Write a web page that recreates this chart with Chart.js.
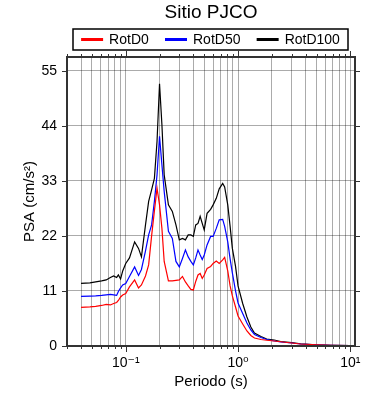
<!DOCTYPE html>
<html>
<head>
<meta charset="utf-8">
<script src="https://cdn.jsdelivr.net/npm/chart.js@4.4.1/dist/chart.umd.min.js"></script>
<style>
  html, body { margin: 0; padding: 0; background: #fff; }
  #wrap { width: 390px; height: 400px; }
</style>
</head>
<body>
<div id="wrap"><canvas id="chart" width="390" height="400"></canvas></div>
<script>
// spectral periods (s)
const periods = [0.04, 0.048, 0.054, 0.061, 0.067, 0.073, 0.078, 0.083, 0.086, 0.09,
  0.094, 0.1, 0.108, 0.12, 0.13, 0.138, 0.15, 0.16, 0.17, 0.18,
  0.19, 0.2, 0.21, 0.22, 0.24, 0.26, 0.28, 0.3, 0.32, 0.34,
  0.36, 0.38, 0.4, 0.42, 0.44, 0.46, 0.48, 0.5, 0.53, 0.57,
  0.6, 0.64, 0.68, 0.73, 0.76, 0.81, 0.85, 0.89, 0.95, 1.0,
  1.1, 1.2, 1.3, 1.4, 1.6, 1.8, 2.1, 2.4, 3.0, 3.6,
  5.0, 6.7, 10];

const rotD0 = [7.7, 7.8, 7.9, 8.1, 8.3, 8.2, 8.5, 8.7, 9.1, 9.8,
  10.2, 10.5, 11.8, 13.2, 11.6, 12.2, 14.0, 16.2, 22.0, 27.0,
  31.5, 28.2, 23.5, 16.9, 13.0, 13.0, 13.1, 13.2, 13.9, 12.8,
  12.0, 11.3, 11.2, 12.9, 14.2, 14.5, 13.5, 14.2, 15.5, 15.9,
  16.5, 17.0, 16.5, 17.2, 17.7, 15.0, 12.0, 10.0, 7.8, 6.0,
  4.4, 3.0, 2.1, 1.6, 1.3, 1.15, 1.0, 0.85, 0.6, 0.4,
  0.25, 0.15, 0.08];

const rotD50 = [9.9, 9.95, 10.0, 10.1, 10.2, 10.3, 10.2, 10.1, 10.9, 11.6,
  12.2, 12.5, 13.9, 15.8, 14.1, 15.3, 19.0, 22.2, 24.2, 28.9,
  34.2, 41.9, 36.2, 30.9, 22.9, 21.5, 16.9, 15.8, 17.5, 19.2,
  17.8, 16.9, 16.2, 17.6, 19.2, 18.2, 17.3, 18.2, 20.2, 21.9,
  21.9, 23.5, 25.2, 25.3, 23.9, 20.8, 17.4, 14.6, 11.0, 8.6,
  6.5, 4.6, 3.2, 2.3, 1.7, 1.3, 1.0, 0.8, 0.6, 0.4,
  0.25, 0.15, 0.08];

const rotD100 = [12.5, 12.6, 12.8, 13.0, 13.2, 13.7, 14.0, 13.7, 14.2, 13.4,
  15.0, 16.5, 17.6, 20.8, 19.5, 17.8, 24.2, 28.9, 31.2, 33.5,
  40.9, 52.4, 44.2, 34.2, 28.2, 26.9, 24.2, 21.2, 21.5, 21.2,
  22.2, 22.2, 21.9, 24.2, 24.5, 25.9, 24.5, 23.2, 26.5, 27.3,
  28.2, 29.5, 31.4, 32.5, 31.8, 28.2, 23.9, 19.5, 15.9, 12.0,
  8.5, 5.8, 3.8, 2.6, 1.9, 1.4, 1.2, 0.9, 0.7, 0.45,
  0.25, 0.15, 0.08];

const seriesNames = ['RotD0', 'RotD50', 'RotD100'];
const seriesColors = ['#ff0000', '#0000ff', '#000000'];
const yTicks = [0, 11, 22, 33, 44, 55];
const xMajor = [0.1, 1, 10];
const xMajorLabels = ['10\u207B\u00B9', '10\u2070', '10\u00B9'];
const xMin = 0.03, xMax = 11, yMax = 57.75;

// log grid: 2..9 times each decade
const xGrid = [];
for (const dec of [0.01, 0.1, 1, 10]) {
  for (let k = 1; k <= 9; k++) {
    const v = Number((k * dec).toPrecision(3));
    if (v >= xMin && v <= xMax) xGrid.push(v);
  }
}

const FONT = "'Liberation Sans', Arial, 'DejaVu Sans', sans-serif";
Chart.defaults.font.family = FONT;
Chart.defaults.color = '#000';

const series = [rotD0, rotD50, rotD100];
const datasets = series.map((vals, i) => ({
  label: seriesNames[i],
  data: periods.map((p, j) => ({ x: p, y: vals[j] })),
  borderColor: seriesColors[i],
  backgroundColor: seriesColors[i],
  borderWidth: 1.2,
  pointRadius: 0,
  tension: 0,
  fill: false
}));

const isMajor = v => xMajor.some(m => Math.abs(m - v) < 1e-9);

// title, boxed legend, frame and outside ticks
const decorations = {
  id: 'decorations',
  afterDraw(chart) {
    const ctx = chart.ctx;
    const a = chart.chartArea;
    const cx = (a.left + a.right) / 2;
    ctx.save();

    ctx.fillStyle = '#000';
    ctx.font = '19px ' + FONT;
    ctx.textAlign = 'center';
    ctx.textBaseline = 'middle';
    ctx.fillText('Sitio PJCO', cx, 13);

    // legend box
    const bx0 = a.left + 6, bx1 = a.right - 7, by0 = a.top - 28, by1 = a.top - 7;
    ctx.lineWidth = 1.5;
    ctx.strokeStyle = '#000';
    ctx.strokeRect(bx0, by0, bx1 - bx0, by1 - by0);
    ctx.font = '14px ' + FONT;
    const lineLen = 22, gap = 6;
    const widths = chart.data.datasets.map(d => lineLen + gap + ctx.measureText(d.label).width);
    const free = (bx1 - bx0) - widths.reduce((s, w) => s + w, 0);
    const outer = free / 6, inner = free / 3;
    let x = bx0 + outer;
    const ly = (by0 + by1) / 2;
    ctx.textAlign = 'left';
    chart.data.datasets.forEach((d, i) => {
      ctx.strokeStyle = d.borderColor;
      ctx.lineWidth = 3;
      ctx.beginPath();
      ctx.moveTo(x, ly);
      ctx.lineTo(x + lineLen, ly);
      ctx.stroke();
      ctx.fillStyle = '#000';
      ctx.fillText(d.label, x + lineLen + gap, ly + 0.5);
      x += widths[i] + inner;
    });

    // frame
    ctx.strokeStyle = '#333';
    ctx.lineWidth = 2;
    ctx.strokeRect(a.left, a.top, a.right - a.left, a.bottom - a.top);

    // ticks outside the frame
    ctx.lineWidth = 1;
    ctx.strokeStyle = '#333';
    const xs = chart.scales.x, ys = chart.scales.y;
    ctx.beginPath();
    xGrid.forEach(v => {
      const px = Math.round(xs.getPixelForValue(v)) + 0.5;
      const len = isMajor(v) ? 6 : 3;
      ctx.moveTo(px, a.bottom); ctx.lineTo(px, a.bottom + len);
      ctx.moveTo(px, a.top); ctx.lineTo(px, a.top - len);
    });
    yTicks.forEach(v => {
      const py = Math.round(ys.getPixelForValue(v)) + 0.5;
      ctx.moveTo(a.left - 5, py); ctx.lineTo(a.left, py);
      ctx.moveTo(a.right, py); ctx.lineTo(a.right + 5, py);
    });
    ctx.stroke();
    ctx.restore();
  }
};

new Chart(document.getElementById('chart'), {
  type: 'line',
  data: { datasets: datasets },
  plugins: [decorations],
  options: {
    responsive: false,
    animation: false,
    layout: { padding: { top: 57, right: 35, left: 0, bottom: 0 } },
    plugins: {
      legend: { display: false },
      title: { display: false },
      tooltip: { enabled: false }
    },
    scales: {
      x: {
        type: 'logarithmic',
        min: xMin,
        max: xMax,
        afterBuildTicks: s => { s.ticks = xGrid.map(v => ({ value: v, major: isMajor(v) })); },
        ticks: {
          autoSkip: false,
          maxRotation: 0,
          padding: 9,
          font: { size: 14 },
          color: '#000',
          callback: v => {
            const i = xMajor.findIndex(m => Math.abs(m - v) < 1e-9);
            return i >= 0 ? xMajorLabels[i] : '';
          }
        },
        grid: { color: 'rgba(0,0,0,0.33)', lineWidth: 1, drawTicks: false },
        border: { display: false },
        title: { display: true, text: 'Periodo (s)', font: { size: 15 }, color: '#000', padding: { top: 0, bottom: 9 } },
        afterFit: s => { s.height = 54; s.paddingLeft = 0; s.paddingRight = 0; }
      },
      y: {
        min: 0,
        max: yMax,
        afterBuildTicks: s => { s.ticks = yTicks.map(v => ({ value: v })); },
        ticks: { padding: 10, font: { size: 14 }, color: '#000' },
        grid: { color: 'rgba(0,0,0,0.33)', lineWidth: 1, drawTicks: false },
        border: { display: false },
        title: { display: true, text: 'PSA (cm/s\u00B2)', font: { size: 15 }, color: '#000', padding: { top: 21, bottom: 0 } },
        afterFit: s => { s.width = 67; s.paddingTop = 0; s.paddingBottom = 0; }
      }
    }
  }
});
</script>
</body>
</html>
